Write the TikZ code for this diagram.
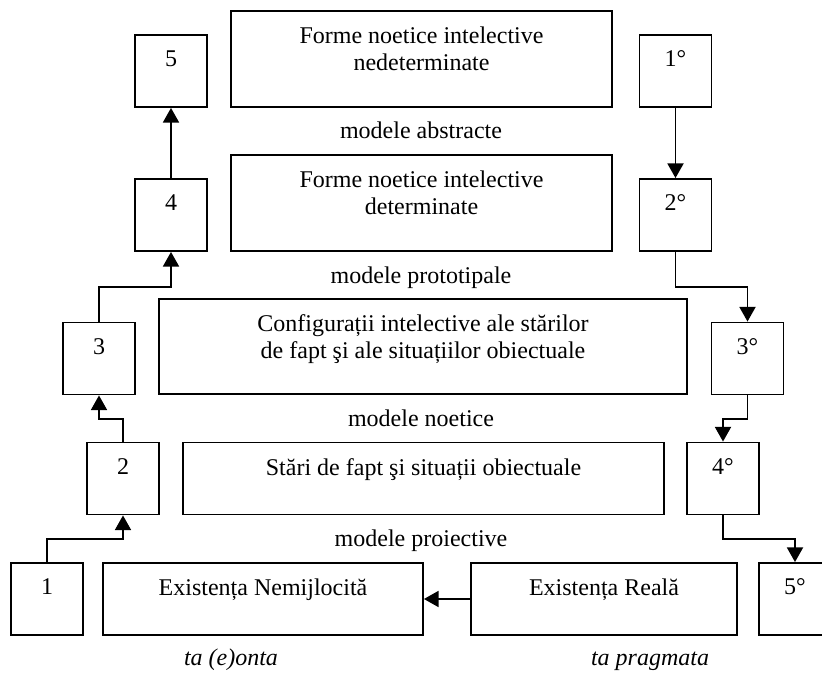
\documentclass[tikz,border=0pt]{standalone}
\usepackage{fontspec}
\setmainfont{Liberation Serif}
\usetikzlibrary{arrows.meta}

\begin{document}
\begin{tikzpicture}[x=.75pt,y=-.75pt,
  font=\fontsize{18}{20.25}\selectfont,
  box/.style={draw, line width=1.4pt, inner sep=0pt},
  sq/.style={box, minimum width=54pt, minimum height=54pt},
  txt/.style={anchor=north, inner sep=0pt, yshift=-12.5pt, align=center},
  mdl/.style={anchor=base, inner sep=0pt},
  arr/.style={line width=1.4pt, -{Triangle[length=11pt,width=12pt]}}]
\useasboundingbox (0,0) rectangle (822,673);
% levels of the bends
\coordinate (lvl1) at (0,539);
\coordinate (lvl2) at (0,419);
\coordinate (lvl3) at (0,286.7);
% left column
\node [sq] (n1) at (47,599) {};
\node [sq] (n2) at (123,478.5) {};
\node [sq] (n3) at (99,358.5) {};
\node [sq] (n4) at (171,215) {};
\node [sq] (n5) at (171,71) {};
\foreach \i in {1,...,5}
  \node [txt] (tn\i) at (n\i.north) {\i};
% right column
\node [sq] (m1) at (675.5,71) {};
\node [sq] (m2) at (675.5,215) {};
\node [sq] (m3) at (747.5,358.5) {};
\node [sq] (m4) at (723,478.5) {};
\node [sq] (m5) at (795,599) {};
\foreach \i in {1,...,5}
  \node [txt] (tm\i) at (m\i.north) {\i°};
% middle boxes
\node [box, minimum width=285.75pt, minimum height=72pt] (nedet) at (421.5,59) {};
\node [txt] (tnedet) at (nedet.north) {Forme noetice intelective\\nedeterminate};
\node [box, minimum width=285.75pt, minimum height=72pt] (det) at (421.5,203) {};
\node [txt] (tdet) at (det.north) {Forme noetice intelective\\determinate};
\node [box, minimum width=396pt, minimum height=71.25pt] (conf) at (423,346.5) {};
\node [txt] (tconf) at (conf.north) {Configurații intelective ale stărilor\\de fapt şi ale situațiilor obiectuale};
\node [box, minimum width=360.75pt, minimum height=54pt] (stari) at (423.5,478.5) {};
\node [txt] (tstari) at (stari.north) {Stări de fapt şi situații obiectuale};
\node [box, minimum width=240pt, minimum height=54pt] (nemij) at (263,599) {};
\node [txt] (tnemij) at (nemij.north) {Existența Nemijlocită};
\node [box, minimum width=199.5pt, minimum height=54pt] (reala) at (604,599) {};
\node [txt] (treala) at (reala.north) {Existența Reală};
% models
\node [mdl] (abs) at (421,138.3) {modele abstracte};
\node [mdl] (proto) at (421,283.3) {modele prototipale};
\node [mdl] (noet) at (421,426.7) {modele noetice};
\node [mdl] (proi) at (421,546.7) {modele proiective};
\node [mdl] (eonta) at (231,666) {\itshape ta (e)onta};
\node [mdl] (pragm) at (650,666) {\itshape ta pragmata};
% ascent on the left
\draw [arr] (n1.north) |- (n2.south |- lvl1) -- (n2.south);
\draw [arr] (n2.north) |- (n3.south |- lvl2) -- (n3.south);
\draw [arr] (n3.north) |- (n4.south |- lvl3) -- (n4.south);
\draw [arr] (n4) -- (n5);
% descent on the right
\draw [arr] (m1) -- (m2);
\draw [arr] (m2.south) |- (m3.north |- lvl3) -- (m3.north);
\draw [arr] (m3.south) |- (m4.north |- lvl2) -- (m4.north);
\draw [arr] (m4.south) |- (m5.north |- lvl1) -- (m5.north);
\draw [arr] (reala) -- (nemij);
\end{tikzpicture}
\end{document}
